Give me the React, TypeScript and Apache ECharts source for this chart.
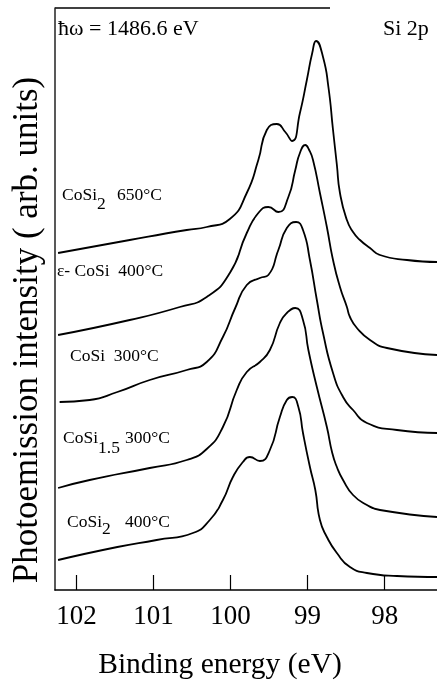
import React, { useEffect, useRef } from "react";
import * as echarts from "echarts";

// Binding energy (eV) and intensity (arb. units) for each spectrum
const cosi2_650_E = [102.24, 101.31, 100.57, 100.31, 100.01, 99.79, 99.64, 99.53, 99.40, 99.29, 99.20, 99.10, 99.01, 98.94, 98.89, 98.80, 98.73, 98.67, 98.62, 98.58, 98.49, 98.41, 98.32, 98.19, 98.06, 97.71, 97.32];
const cosi2_650_I = [337, 350, 360, 363, 371, 397, 430, 460, 466, 458, 449, 477, 510, 537, 549, 533, 503, 460, 425, 397, 370, 358, 350, 342, 335, 330, 328];

const ecosi_400_E = [102.24, 101.31, 100.66, 100.31, 100.01, 99.79, 99.64, 99.51, 99.38, 99.25, 99.16, 99.10, 99.03, 98.98, 98.93, 98.84, 98.75, 98.67, 98.58, 98.49, 98.45, 98.36, 98.19, 97.97, 97.32];
const ecosi_400_I = [255, 270, 283, 293, 317, 357, 377, 383, 378, 393, 420, 437, 445, 440, 430, 397, 363, 330, 303, 283, 273, 262, 250, 242, 235];

const cosi_300_E = [102.22, 101.83, 101.47, 101.05, 100.57, 100.31, 100.10, 99.94, 99.79, 99.62, 99.51, 99.38, 99.27, 99.15, 99.06, 98.97, 98.88, 98.80, 98.67, 98.54, 98.41, 98.23, 97.84, 97.32];
const cosi_300_I = [188, 190, 198, 210, 220, 228, 253, 282, 305, 312, 315, 340, 362, 368, 360, 330, 290, 257, 217, 193, 180, 167, 160, 157];

const cosi15_300_E = [102.24, 101.83, 101.05, 100.57, 100.31, 100.10, 99.92, 99.79, 99.62, 99.49, 99.36, 99.27, 99.16, 99.06, 98.99, 98.88, 98.75, 98.68, 98.62, 98.54, 98.41, 98.23, 98.06, 97.32];
const cosi15_300_I = [102, 110, 122, 130, 141, 163, 200, 218, 228, 240, 267, 277, 282, 270, 240, 203, 163, 137, 123, 110, 95, 85, 80, 73];

const cosi2_400_E = [102.24, 101.47, 100.96, 100.49, 100.27, 100.10, 99.97, 99.84, 99.75, 99.62, 99.49, 99.36, 99.27, 99.20, 99.12, 99.06, 98.97, 98.90, 98.84, 98.75, 98.62, 98.45, 98.23, 97.84, 97.32];
const cosi2_400_I = [30, 43, 50, 57, 70, 90, 113, 128, 133, 129, 140, 173, 190, 193, 183, 157, 123, 100, 70, 53, 37, 23, 17, 14, 13];

const tickValues = [98, 99, 100, 101, 102];
const xMin = 97.32;
const xMax = 102.28;

const SERIF = "'Liberation Serif', 'Times New Roman', serif";

function zip(e: number[], i: number[]) {
  return e.map((v, k) => [v, i[k]]);
}

export default function App() {
  const ref = useRef<HTMLDivElement>(null);
  useEffect(() => {
    if (!ref.current) return;
    const chart = echarts.init(ref.current, null, { renderer: "svg" });
    const spectra = [
      zip(cosi2_650_E, cosi2_650_I),
      zip(ecosi_400_E, ecosi_400_I),
      zip(cosi_300_E, cosi_300_I),
      zip(cosi15_300_E, cosi15_300_I),
      zip(cosi2_400_E, cosi2_400_I),
    ];
    const lbl = (text: string, x: number, y: number, size = 17.5) => ({
      type: "text",
      x,
      y,
      style: { text, fontSize: size, fontFamily: SERIF, fill: "#000", textVerticalAlign: "middle", textAlign: "left" },
    });
    chart.setOption({
      animation: false,
      grid: { left: 55, right: 0, top: 8, bottom: 92, containLabel: false, outerBoundsMode: "none" },
      xAxis: {
        type: "value",
        inverse: true,
        min: xMin,
        max: xMax,
        axisLine: { show: true, onZero: false, lineStyle: { color: "#000", width: 1.5 } },
        axisTick: { show: true, inside: true, length: 15, customValues: tickValues, lineStyle: { color: "#000", width: 1.2 } },
        axisLabel: { show: true, customValues: tickValues, fontSize: 27, fontFamily: SERIF, color: "#000", margin: 11 },
        splitLine: { show: false },
      },
      yAxis: {
        type: "value",
        min: 0,
        max: 582,
        axisLine: { show: true, onZero: false, lineStyle: { color: "#222", width: 1.5 } },
        axisTick: { show: false },
        axisLabel: { show: false },
        splitLine: { show: false },
      },
      series: spectra.map((d) => ({
        type: "line",
        data: d,
        smooth: 0.55,
        showSymbol: false,
        symbol: "none",
        lineStyle: { color: "#000", width: 1.8 },
      })),
      graphic: [
        { type: "line", shape: { x1: 55, y1: 8, x2: 330, y2: 8 }, style: { stroke: "#000", lineWidth: 1.5 } },
        lbl("ħω = 1486.6 eV", 58, 27, 22),
        lbl("Si 2p", 383, 27, 22),
        lbl("CoSi", 62, 194),
        lbl("2", 97, 203),
        lbl("650°C", 117, 194),
        lbl("ε- CoSi  400°C", 57, 270),
        lbl("CoSi  300°C", 70, 355),
        lbl("CoSi", 63, 437),
        lbl("1.5", 98, 447),
        lbl("300°C", 125, 437),
        lbl("CoSi", 67, 521),
        lbl("2", 102, 528),
        lbl("400°C", 125, 521),
        {
          type: "text",
          x: 220,
          y: 663,
          style: { text: "Binding energy (eV)", fontSize: 29.5, fontFamily: SERIF, fill: "#000", textAlign: "center", textVerticalAlign: "middle" },
        },
        {
          type: "text",
          x: 25,
          y: 330,
          rotation: Math.PI / 2,
          style: { text: "Photoemission intensity ( arb. units)", fontSize: 35, fontFamily: SERIF, fill: "#000", textAlign: "center", textVerticalAlign: "middle" },
        },
      ],
    });
    return () => chart.dispose();
  }, []);
  return <div ref={ref} style={{ position: "fixed", left: 0, top: 0, width: 437, height: 682 }} />;
}
